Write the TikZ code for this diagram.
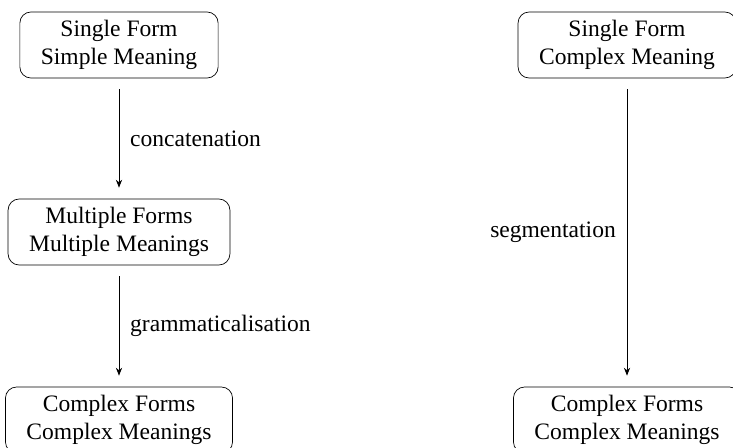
\documentclass[tikz,border=0pt]{standalone}
\usepackage{fontspec}
\setmainfont{Liberation Serif}
\usetikzlibrary{arrows.meta}

\begin{document}
\begin{tikzpicture}[x=0.02cm, y=-0.02cm, >={Stealth[length=4.5pt, width=3.5pt]},
        font=\fontsize{13.4}{16}\selectfont,
        stage/.style={draw, rounded corners=0.22cm, align=center, minimum height=1.32cm, inner xsep=0.42cm},
        link/.style={->, shorten >=0.22cm, shorten <=0.22cm}]
        \useasboundingbox (0,0) rectangle (733,447);
        % Left column
        \node[stage] (singleL) at (119,45) {Single Form\\Simple Meaning};
        \node[stage] (multiple) at (119,232) {Multiple Forms\\Multiple Meanings};
        \node[stage] (complexL) at (119,420) {Complex Forms\\Complex Meanings};
        \draw[link] (singleL) -- (multiple) node[midway, right=0.1cm] {concatenation};
        \draw[link] (multiple) -- (complexL) node[midway, right=0.1cm] {grammaticalisation};

        % Right column
        \node[stage] (singleR) at (627,45) {Single Form\\Complex Meaning};
        \node[stage] (complexR) at (627,420) {Complex Forms\\Complex Meanings};
        \draw[link] (singleR) -- (complexR) node[midway, left=0.1cm] {segmentation};
    \end{tikzpicture}
\end{document}
